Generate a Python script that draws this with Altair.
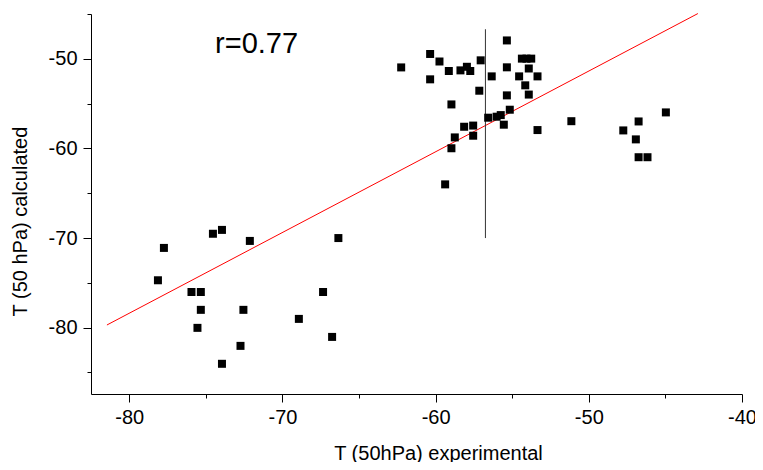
import altair as alt
import pandas as pd

FONT = "Liberation Sans"

# experimental T (x) and calculated T (y) at 50 hPa
x_exp = [-62.25, -60.36, -60.36, -59.75, -59.14, -58.38, -57.96, -57.74, -57.06,
         -58.97, -57.15, -56.34, -55.35, -55.35, -54.37, -54.07, -53.76, -53.92,
         -54.55, -53.35, -54.15, -53.92, -55.35, -55.16, -55.75, -56.02, -56.57,
         -55.55, -57.55, -58.14, -58.75, -57.55, -58.97, -53.35, -51.14, -59.38,
         -44.97, -46.75, -47.75, -46.93, -46.75, -46.17,
         -77.74, -78.13, -74.54, -73.95, -72.13, -66.35, -75.94, -75.33, -75.33,
         -75.55, -72.55, -72.74, -73.95, -68.93, -67.35, -66.76]
y_calc = [-50.96, -49.46, -52.29, -50.30, -51.36, -51.29, -50.89, -51.36, -50.17,
          -55.09, -53.56, -51.96, -47.95, -50.95, -49.98, -49.98, -49.98, -51.08,
          -51.96, -51.96, -52.96, -53.99, -54.08, -55.68, -56.28, -56.46, -56.57,
          -57.35, -57.45, -57.58, -58.77, -58.58, -59.98, -57.95, -56.96, -64.01,
          -55.98, -56.99, -57.99, -58.99, -60.98, -60.98,
          -71.10, -74.71, -69.52, -69.09, -70.32, -70.00, -76.02, -76.02, -78.01,
          -80.02, -78.01, -82.03, -84.03, -79.02, -76.02, -81.03]

# regression line end points
fit_x = [-81.46, -42.88]
fit_y = [-79.70, -44.95]

# vertical marker line
vline_x = [-56.75]
vline_top = [-46.7]
vline_bottom = [-70.0]

annotation = ["r=0.77"]
ann_x = [-74.4]
ann_y = [-49.36]

x_ticks = list(range(-80, -39, 5))
y_ticks = list(range(-85, -44, 5))

pts = pd.DataFrame({"x": x_exp, "y": y_calc})
fit = pd.DataFrame({"x": fit_x, "y": fit_y})
vl = pd.DataFrame({"x": vline_x, "y": vline_top, "y2": vline_bottom})
ann = pd.DataFrame({"x": ann_x, "y": ann_y, "t": annotation})

xscale = alt.Scale(domain=[-82.5, -40], nice=False, zero=False)
yscale = alt.Scale(domain=[-87.4, -45], nice=False, zero=False)

tick_size = {"condition": {"test": "datum.value % 10 === 0", "value": 8}, "value": 4}
lab_expr = "datum.value % 10 === 0 ? '' + datum.value : ''"

xaxis = alt.Axis(values=x_ticks, title="T (50hPa) experimental", grid=False,
                 domainColor="black", tickColor="black", labelColor="black",
                 titleColor="black", labelFont=FONT, titleFont=FONT,
                 labelFontSize=20, titleFontSize=20, titleFontWeight="normal",
                 tickSize=tick_size, labelExpr=lab_expr, labelPadding=5,
                 labelFlush=False, labelOverlap=False,
                 titleX=347, titleY=59, titleBaseline="middle", titleAlign="center")
yaxis = alt.Axis(values=y_ticks, title="T (50 hPa) calculated", grid=False,
                 domainColor="black", tickColor="black", labelColor="black",
                 titleColor="black", labelFont=FONT, titleFont=FONT,
                 labelFontSize=20, titleFontSize=20, titleFontWeight="normal",
                 tickSize=tick_size, labelExpr=lab_expr, labelPadding=6,
                 labelFlush=False, labelOverlap=False,
                 titleX=-71, titleY=207, titleBaseline="middle", titleAlign="center",
                 titleAngle=270)

X = alt.X("x:Q", scale=xscale, axis=xaxis)
Y = alt.Y("y:Q", scale=yscale, axis=yaxis)

line = alt.Chart(fit).mark_line(color="red", strokeWidth=1).encode(x=X, y=Y)
rule = alt.Chart(vl).mark_rule(color="#333333", strokeWidth=1).encode(x=X, y=Y, y2="y2:Q")
points = alt.Chart(pts).mark_square(size=64, color="black", opacity=1).encode(x=X, y=Y)
text = alt.Chart(ann).mark_text(align="left", baseline="alphabetic", fontSize=29,
                                font=FONT, color="black").encode(x=X, y=Y, text="t:N")

chart = alt.layer(line, rule, points, text).properties(
    width=651, height=380,
    autosize=alt.AutoSizeParams(type="none"),
    padding={"left": 83, "top": 6, "right": 13, "bottom": 68},
    background="white",
).configure_view(stroke=None)

chart.save("out.html", embed_options={"renderer": "svg", "actions": False})
